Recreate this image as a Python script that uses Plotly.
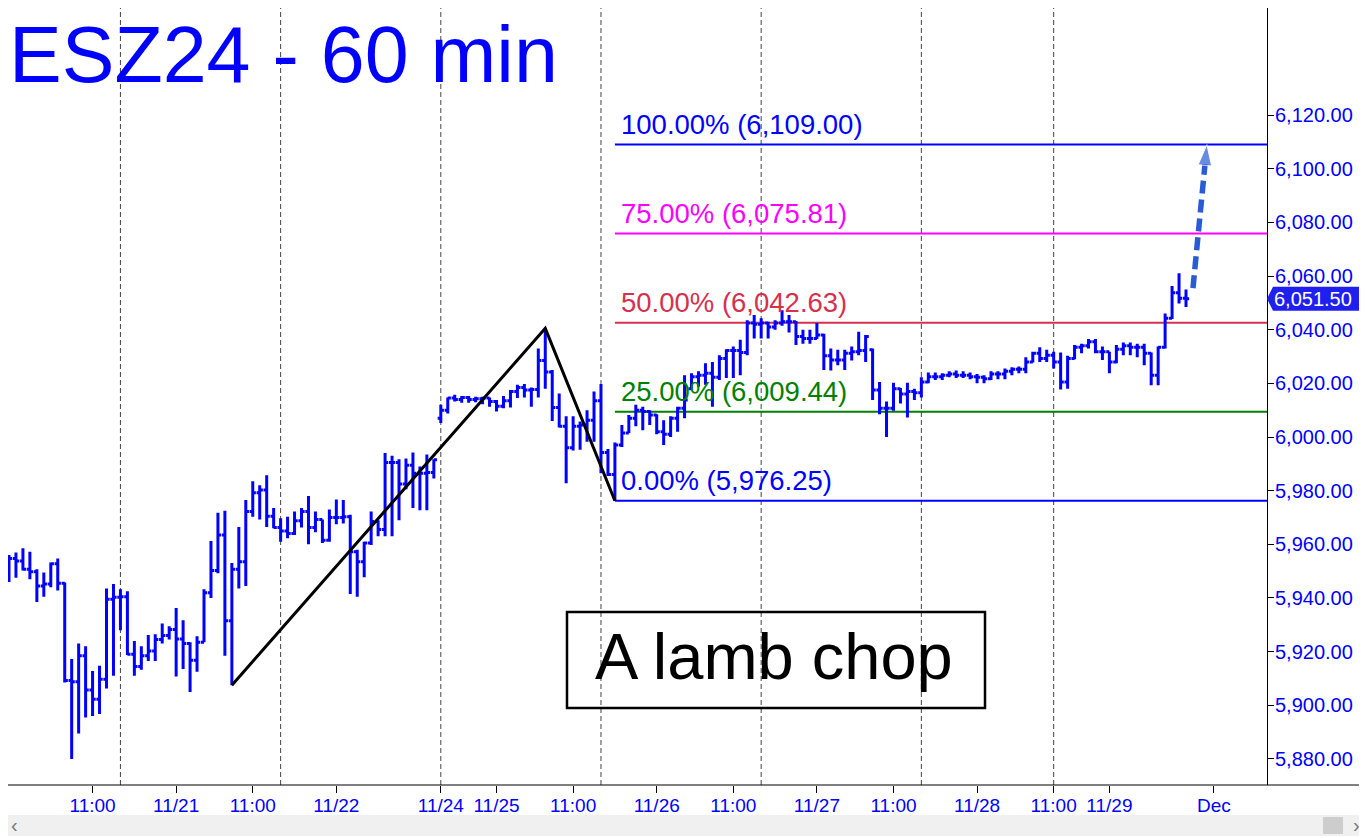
import plotly.graph_objects as go

# ESZ24 60-minute bars, one entry per hourly bar (x = bar index)
OPEN = [
    5954.5, 5954.75, 5953.75, 5950.75, 5949.75, 5944.5, 5945.25, 5952.75, 5945.5, 5909.25,
    5908.75, 5918.5, 5905.75, 5902.25, 5909.75, 5939.5, 5940.25, 5940.5, 5919.0, 5914.5,
    5918.5, 5920.25, 5924.5, 5926.0, 5928.25, 5924.75, 5923.0, 5916.75, 5923.5, 5942.0,
    5950.25, 5963.5, 5931.5, 5950.75, 5953.5, 5972.25, 5979.25, 5980.25, 5970.5, 5966.25,
    5965.0, 5964.0, 5968.75, 5972.25, 5966.25, 5969.25, 5961.5, 5970.0, 5970.0, 5970.25,
    5957.25, 5953.5, 5960.5, 5968.5, 5965.5, 5990.5, 5990.5, 5982.5, 5989.5, 5986.5,
    5986.5, 5986.75, 6007.0, 6010.0, 6014.5, 6014.0, 6014.75, 6014.0, 6014.25, 6014.5,
    6013.25, 6011.5, 6013.5, 6017.0, 6018.5, 6017.5, 6017.75, 6028.5, 6024.25, 6011.0,
    6004.0, 5996.0, 6004.0, 6004.5, 6006.25, 6013.5, 5994.25, 5986.0, 5997.0, 6001.5,
    6007.0, 6010.0, 6009.5, 6008.25, 6002.0, 6001.0, 6007.0, 6010.75, 6018.0, 6022.5,
    6023.0, 6023.75, 6022.25, 6029.25, 6032.25, 6032.25, 6031.5, 6042.5, 6042.0, 6042.5,
    6041.0, 6042.5, 6043.0, 6043.0, 6037.5, 6036.75, 6036.75, 6038.0, 6030.25, 6028.75,
    6028.75, 6031.25, 6031.75, 6032.25, 6032.5, 6017.5, 6010.75, 6010.75, 6018.0, 6016.0,
    6017.0, 6016.5, 6020.5, 6022.5, 6022.5, 6023.0, 6023.5, 6023.0, 6023.0, 6022.5,
    6022.25, 6021.75, 6023.5, 6023.5, 6024.5, 6025.25, 6025.25, 6028.0, 6031.25, 6029.25,
    6030.5, 6028.0, 6020.5, 6029.25, 6033.5, 6034.0, 6035.5, 6031.75, 6031.75, 6028.0,
    6032.75, 6034.0, 6033.5, 6033.5, 6031.25, 6023.0, 6033.5, 6044.25, 6053.75, 6051.75,
]
HIGH = [
    5956.0, 5957.0, 5958.5, 5957.25, 5950.75, 5949.5, 5953.25, 5954.75, 5945.75, 5917.25,
    5923.0, 5922.0, 5912.75, 5914.75, 5943.5, 5945.25, 5943.25, 5942.5, 5924.0, 5922.0,
    5926.25, 5926.5, 5930.5, 5929.5, 5936.25, 5931.75, 5923.5, 5925.75, 5943.25, 5961.25,
    5971.75, 5972.5, 5953.0, 5966.5, 5976.5, 5983.5, 5982.0, 5985.75, 5973.5, 5969.75,
    5970.25, 5972.25, 5973.5, 5978.0, 5972.25, 5969.25, 5973.0, 5976.75, 5976.5, 5971.0,
    5958.0, 5961.0, 5972.25, 5969.0, 5994.0, 5993.0, 5991.75, 5992.0, 5994.25, 5989.0,
    5993.5, 5991.75, 6012.0, 6014.75, 6015.75, 6015.25, 6015.25, 6015.0, 6015.0, 6014.75,
    6013.75, 6015.25, 6017.5, 6019.5, 6019.75, 6018.5, 6033.0, 6040.5, 6025.0, 6016.25,
    6007.75, 6007.75, 6005.75, 6010.0, 6017.0, 6019.75, 5995.5, 5998.0, 6004.5, 6008.25,
    6012.0, 6011.25, 6010.0, 6008.5, 6006.25, 6007.75, 6011.25, 6023.0, 6023.75, 6024.5,
    6027.5, 6028.0, 6030.5, 6032.75, 6033.75, 6036.25, 6043.5, 6045.5, 6044.25, 6043.0,
    6043.5, 6047.25, 6045.5, 6043.25, 6040.0, 6040.0, 6042.5, 6038.5, 6033.0, 6032.5,
    6032.5, 6033.75, 6039.25, 6038.0, 6033.0, 6020.5, 6013.25, 6020.25, 6018.25, 6020.25,
    6018.0, 6022.25, 6024.0, 6024.0, 6023.75, 6024.5, 6024.75, 6024.5, 6024.0, 6023.5,
    6023.0, 6024.5, 6024.5, 6025.5, 6026.0, 6026.25, 6029.75, 6031.75, 6033.5, 6032.5,
    6031.75, 6031.5, 6030.25, 6034.25, 6034.75, 6036.5, 6036.5, 6033.75, 6031.75, 6034.25,
    6035.25, 6035.25, 6034.75, 6034.75, 6031.5, 6033.75, 6046.0, 6056.25, 6061.0, 6055.0,
]
LOW = [
    5946.0, 5947.5, 5950.25, 5947.0, 5938.5, 5940.5, 5944.0, 5942.75, 5908.5, 5880.0,
    5889.5, 5895.5, 5896.0, 5896.75, 5906.25, 5911.0, 5928.0, 5918.75, 5911.0, 5913.25,
    5916.5, 5916.5, 5923.0, 5924.5, 5910.75, 5913.5, 5905.0, 5912.5, 5923.5, 5940.0,
    5949.25, 5918.5, 5907.5, 5943.5, 5944.5, 5970.25, 5969.25, 5966.5, 5966.0, 5961.0,
    5962.25, 5963.5, 5966.25, 5960.0, 5964.5, 5960.5, 5961.0, 5967.5, 5967.75, 5941.5,
    5940.5, 5947.75, 5959.75, 5963.0, 5963.0, 5963.0, 5969.0, 5980.5, 5973.5, 5972.75,
    5972.75, 5984.5, 6005.25, 6008.75, 6013.25, 6012.75, 6012.75, 6013.0, 6012.25, 6011.25,
    6009.5, 6010.75, 6011.0, 6014.5, 6014.75, 6011.25, 6014.75, 6018.0, 6006.0, 6003.5,
    5982.75, 5995.0, 5995.25, 5998.25, 5998.25, 5986.5, 5985.5, 5976.25, 5996.25, 6001.5,
    6004.0, 6002.5, 6004.5, 6001.0, 5997.0, 6000.0, 6002.0, 6007.0, 6017.5, 6018.75,
    6019.5, 6011.25, 6021.25, 6022.0, 6022.0, 6023.0, 6030.5, 6036.75, 6036.75, 6036.75,
    6040.0, 6041.5, 6039.0, 6034.25, 6034.75, 6034.75, 6036.5, 6025.0, 6024.75, 6026.75,
    6025.0, 6028.5, 6030.5, 6028.0, 6013.75, 6008.5, 6000.0, 6009.75, 6012.5, 6007.25,
    6013.75, 6014.75, 6020.0, 6021.25, 6021.25, 6022.25, 6022.0, 6022.0, 6021.5, 6020.0,
    6020.0, 6021.25, 6021.5, 6021.5, 6023.0, 6023.75, 6023.75, 6027.75, 6028.0, 6028.0,
    6025.5, 6017.75, 6018.0, 6029.0, 6031.25, 6033.0, 6031.25, 6028.75, 6023.75, 6027.5,
    6030.5, 6030.5, 6029.75, 6026.75, 6019.25, 6019.25, 6033.0, 6044.0, 6049.75, 6048.5,
]
CLOSE = [
    5954.75, 5953.75, 5950.75, 5949.75, 5944.5, 5945.25, 5952.75, 5945.5, 5909.25, 5908.75,
    5918.5, 5905.75, 5902.25, 5909.75, 5939.5, 5940.25, 5940.5, 5919.0, 5914.5, 5918.5,
    5920.25, 5924.5, 5926.0, 5928.25, 5924.75, 5923.0, 5916.75, 5923.5, 5942.0, 5950.25,
    5963.5, 5931.5, 5950.75, 5953.5, 5972.25, 5979.25, 5980.25, 5970.5, 5966.25, 5965.0,
    5964.0, 5968.75, 5972.25, 5966.25, 5969.25, 5961.5, 5970.0, 5970.0, 5970.25, 5957.25,
    5953.5, 5960.5, 5968.5, 5965.5, 5990.5, 5990.5, 5982.5, 5989.5, 5986.5, 5986.5,
    5986.75, 5991.5, 6010.0, 6014.5, 6014.0, 6014.75, 6014.0, 6014.25, 6014.5, 6013.25,
    6011.5, 6013.5, 6017.0, 6018.5, 6017.5, 6017.75, 6028.5, 6024.25, 6011.0, 6004.0,
    5996.0, 6004.0, 6004.5, 6006.25, 6013.5, 5994.25, 5986.0, 5997.0, 6001.5, 6007.0,
    6010.0, 6009.5, 6008.25, 6002.0, 6001.0, 6007.0, 6010.75, 6013.75, 6022.5, 6023.0,
    6023.75, 6022.25, 6029.25, 6032.25, 6032.25, 6031.5, 6042.5, 6042.0, 6042.5, 6041.0,
    6042.5, 6043.0, 6043.0, 6037.5, 6036.75, 6036.75, 6038.0, 6030.25, 6028.75, 6028.75,
    6031.25, 6031.75, 6032.25, 6037.5, 6017.5, 6010.75, 6010.75, 6018.0, 6016.0, 6017.0,
    6016.5, 6020.5, 6022.5, 6022.5, 6023.0, 6023.5, 6023.0, 6023.0, 6022.5, 6022.25,
    6021.75, 6023.5, 6023.5, 6024.5, 6025.25, 6025.25, 6028.0, 6031.25, 6029.25, 6030.5,
    6028.0, 6020.5, 6029.25, 6033.5, 6034.0, 6035.5, 6031.75, 6031.75, 6028.0, 6032.75,
    6034.0, 6033.5, 6033.5, 6031.25, 6023.0, 6033.5, 6044.25, 6053.75, 6051.75, 6051.5,
]
BARS = list(range(len(CLOSE)))

# first bar of each trading session (dashed separators)
SESSION_STARTS = [16, 39, 62, 85, 108, 131, 150]

X_TICK_BARS = [12, 24, 35, 47, 62, 70, 81, 93, 104, 116, 127, 139, 150, 158, 173]
X_TICK_TEXT = ["11:00", "11/21", "11:00", "11/22", "11/24", "11/25", "11:00", "11/26",
               "11:00", "11/27", "11:00", "11/28", "11:00", "11/29", "Dec"]
Y_TICKS = [5880, 5900, 5920, 5940, 5960, 5980, 6000, 6020, 6040, 6060, 6080, 6100, 6120]

# swing legs (low -> high -> low) and the Fibonacci levels drawn off them
ZIGZAG_X = [32, 77, 87]
ZIGZAG_Y = [5907.5, 6040.5, 5976.25]
FIB_START = 87
FIB_LEVELS = [5976.25, 6009.44, 6042.63, 6075.81, 6109.00]
FIB_PCT = ["0.00%", "25.00%", "50.00%", "75.00%", "100.00%"]
FIB_COLORS = ["#0000ff", "#008000", "#d6304f", "#ff00ff", "#0000ff"]

# projected move
ARROW_X = [170.0, 172.0]
ARROW_Y = [6055.5, 6109.0]

LAST_PRICE = CLOSE[-1]

FONT = "Arial, Liberation Sans, sans-serif"
W, H = 1359, 830
M_L, M_R, M_T, M_B = 0, 100, 0, 53
PLOT_W = W - M_L - M_R
PLOT_H = H - M_T - M_B
X_RANGE = [-0.1436, 180.63]
Y_RANGE = [5870.3, 6159.9]


def px_x(x):
    # page pixel -> paper x (page has an 8px body margin)
    return (x - 8 - M_L) / PLOT_W


def px_y(y):
    return (8 + M_T + PLOT_H - y) / PLOT_H


fig = go.Figure()

fig.add_trace(go.Ohlc(
    x=BARS, open=OPEN, high=HIGH, low=LOW, close=CLOSE,
    increasing=dict(line=dict(color="#0000ff", width=3)),
    decreasing=dict(line=dict(color="#0000ff", width=3)),
    tickwidth=0.45,
    showlegend=False,
    hoverinfo="skip",
))

fig.add_trace(go.Scatter(
    x=ZIGZAG_X, y=ZIGZAG_Y, mode="lines",
    line=dict(color="black", width=3),
    showlegend=False, hoverinfo="skip",
))

fig.add_trace(go.Scatter(
    x=ARROW_X, y=ARROW_Y, mode="lines+markers",
    line=dict(color="#2a5bd7", width=5.5, dash="13px,6px"),
    marker=dict(symbol="arrow", size=[0, 22], color="#2a5bd7", angleref="previous"),
    showlegend=False, hoverinfo="skip",
))

shapes = []
for b in SESSION_STARTS:
    shapes.append(dict(type="line", xref="x", yref="paper", x0=b, x1=b, y0=0, y1=1,
                       line=dict(color="#444444", width=1, dash="5px,3px"), layer="below"))

for lvl, col in zip(FIB_LEVELS, FIB_COLORS):
    shapes.append(dict(type="line", xref="x", yref="y", x0=FIB_START, x1=X_RANGE[1],
                       y0=lvl, y1=lvl, line=dict(color=col, width=2), layer="below"))

# "A lamb chop" box
shapes.append(dict(type="rect", xref="paper", yref="paper",
                   x0=px_x(567), x1=px_x(985), y0=px_y(708), y1=px_y(612),
                   line=dict(color="black", width=2.5)))

# full width x axis line
shapes.append(dict(type="line", xref="paper", yref="paper", x0=0, x1=px_x(1367),
                   y0=0, y1=0, line=dict(color="black", width=1)))

# last price tag
shapes.append(dict(type="path", xref="paper", yref="y", xsizemode="pixel", ysizemode="pixel",
                   xanchor=1, yanchor=LAST_PRICE,
                   path="M 0 0 L 6 12 L 101 12 L 101 -12 L 6 -12 Z",
                   fillcolor="#1f1ff0", line=dict(width=0)))

# scrollbar strip
shapes.append(dict(type="rect", xref="paper", yref="paper",
                   x0=0, x1=px_x(1367), y0=px_y(836), y1=px_y(815),
                   fillcolor="#f0f0f0", line=dict(width=0)))
shapes.append(dict(type="rect", xref="paper", yref="paper",
                   x0=px_x(1323), x1=px_x(1343), y0=px_y(834), y1=px_y(817),
                   fillcolor="#cdcdcd", line=dict(width=0)))

annotations = [
    dict(text="ESZ24 - 60 min", xref="paper", yref="paper", x=0, y=1,
         xanchor="left", yanchor="top", showarrow=False, borderpad=0, yshift=-1,
         font=dict(family=FONT, size=79, color="#0000ff")),
    dict(text="A lamb chop", xref="paper", yref="paper", x=px_x(774), y=px_y(656),
         xanchor="center", yanchor="middle", showarrow=False,
         font=dict(family=FONT, size=65, color="black")),
    dict(text=f"{LAST_PRICE:,.2f}", xref="paper", yref="y", x=1, y=LAST_PRICE,
         xanchor="left", yanchor="middle", xshift=5, showarrow=False,
         font=dict(family=FONT, size=20, color="white")),
    dict(text="‹", xref="paper", yref="paper", x=px_x(14), y=px_y(825),
         xanchor="center", yanchor="middle", showarrow=False,
         font=dict(family=FONT, size=20, color="#777777")),
    dict(text="›", xref="paper", yref="paper", x=px_x(1356), y=px_y(825),
         xanchor="center", yanchor="middle", showarrow=False,
         font=dict(family=FONT, size=20, color="#777777")),
]
for lvl, pct, col in zip(FIB_LEVELS, FIB_PCT, FIB_COLORS):
    annotations.append(dict(
        text=f"{pct} ({lvl:,.2f})", xref="x", yref="y", x=FIB_START, y=lvl,
        xanchor="left", yanchor="bottom", xshift=4, yshift=3, showarrow=False,
        font=dict(family=FONT, size=27.5, color=col)))

fig.update_layout(
    width=W, height=H,
    margin=dict(l=M_L, r=M_R, t=M_T, b=M_B),
    paper_bgcolor="white",
    plot_bgcolor="white",
    shapes=shapes,
    annotations=annotations,
    xaxis=dict(
        range=X_RANGE, rangeslider=dict(visible=False),
        tickvals=X_TICK_BARS, ticktext=X_TICK_TEXT,
        ticks="outside", ticklen=7, tickcolor="black",
        ticklabelstandoff=-4,
        tickfont=dict(family=FONT, size=19, color="#0000ff"),
        showgrid=False, zeroline=False, showline=False,
    ),
    yaxis=dict(
        range=Y_RANGE, side="right",
        tickvals=Y_TICKS, tickformat=",.2f",
        ticks="outside", ticklen=6, tickcolor="black",
        ticklabelstandoff=-3,
        tickfont=dict(family=FONT, size=20, color="#0000ff"),
        showline=True, linecolor="black", linewidth=1,
        showgrid=False, zeroline=False,
    ),
)

fig.write_html("out.html")
